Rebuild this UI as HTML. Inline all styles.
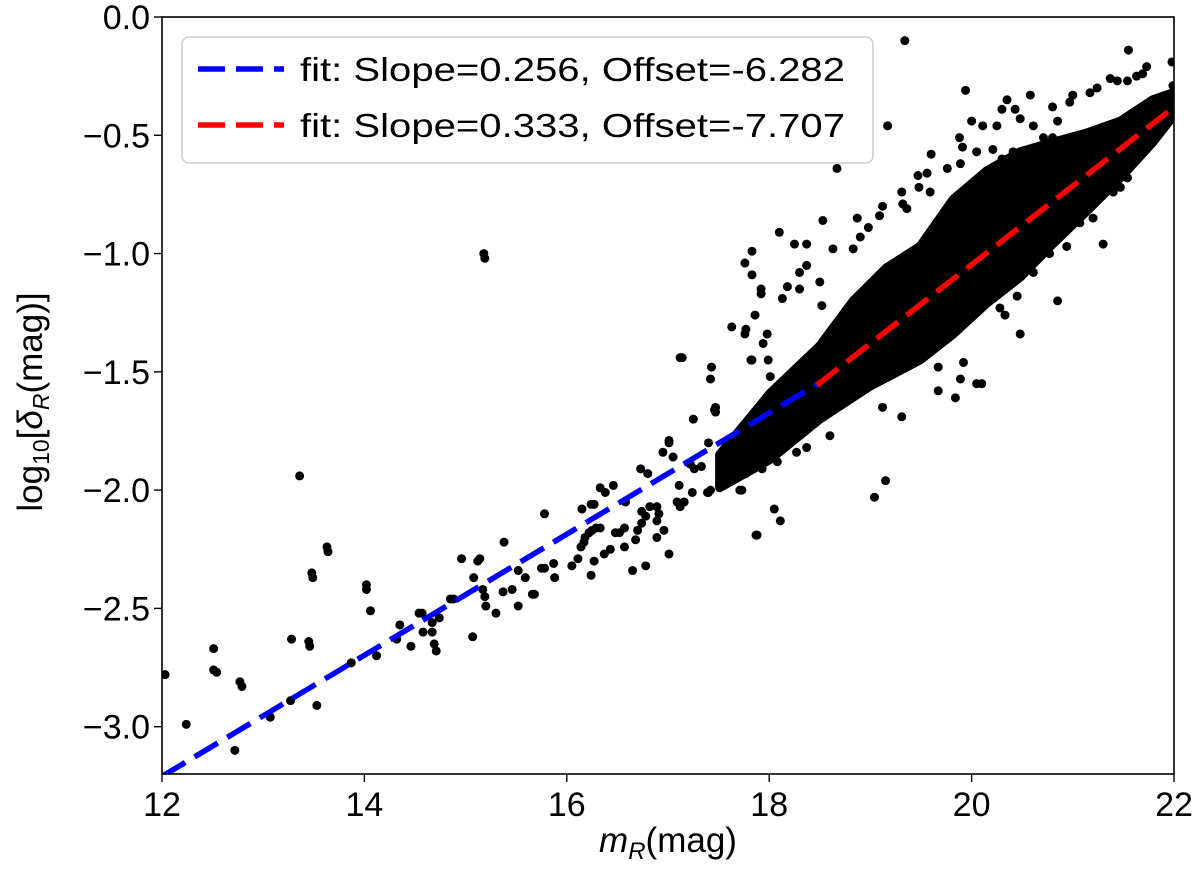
<!DOCTYPE html>
<html><head><meta charset="utf-8"><style>
body{margin:0;background:#fff;}
svg{display:block;font-family:"Liberation Sans","DejaVu Sans",sans-serif;}
</style></head><body>
<svg id="chart" width="1200" height="870" viewBox="0 0 1200 870" xmlns="http://www.w3.org/2000/svg">
<g id="plot"></g>
<g id="axes"></g>
</svg>
<script>
const xTicks=[12,14,16,18,20,22];
const yTicks=[0,-0.5,-1.0,-1.5,-2.0,-2.5,-3.0];
const yTickLabels=["0.0","−0.5","−1.0","−1.5","−2.0","−2.5","−3.0"];
const fitBlue=[0.256,-6.282,12,18.47];
const fitRed=[0.333,-7.707,18.47,22];
const coreUpperX=[17.51,18.01,18.50,18.83,19.16,19.49,19.82,20.15,20.48,20.80,21.14,21.47,21.79,21.99];
const coreUpper=[-1.85,-1.59,-1.39,-1.20,-1.06,-0.97,-0.77,-0.65,-0.57,-0.53,-0.49,-0.44,-0.35,-0.32];
const coreLowerX=[17.51,18.01,18.50,19.00,19.49,19.82,20.15,20.48,20.80,21.14,21.47,21.79,21.99];
const coreLower=[-1.99,-1.87,-1.70,-1.56,-1.45,-1.34,-1.21,-1.10,-0.96,-0.82,-0.68,-0.53,-0.42];
const pts=[
[12.03,-2.78],[12.24,-2.99],[12.51,-2.67],[12.51,-2.76],[12.54,-2.77],[12.77,-2.81],[12.79,-2.83],[12.72,-3.10],[13.07,-2.96],[13.27,-2.89],
[13.28,-2.63],[13.36,-1.94],[13.45,-2.64],[13.46,-2.66],[13.53,-2.91],[13.48,-2.35],[13.49,-2.37],[13.63,-2.24],[13.64,-2.26],[14.02,-2.40],
[14.02,-2.42],[14.06,-2.51],[14.12,-2.70],[13.87,-2.73],[14.32,-2.63],[14.35,-2.57],[14.46,-2.66],[14.54,-2.52],[14.57,-2.52],[14.58,-2.60],
[14.67,-2.60],[14.67,-2.56],[14.74,-2.54],[14.69,-2.65],[14.71,-2.68],[14.85,-2.46],[14.88,-2.46],[14.96,-2.29],[15.08,-2.37],[15.07,-2.62],
[15.12,-2.30],[15.14,-2.29],[15.17,-2.42],[15.19,-2.45],[15.20,-2.49],[15.30,-2.52],[15.38,-2.22],[15.37,-2.43],[15.46,-2.42],[15.52,-2.49],
[15.52,-2.34],[15.59,-2.37],[15.66,-2.44],[15.68,-2.44],[15.75,-2.33],[15.78,-2.33],[15.78,-2.10],[15.87,-2.31],[15.88,-2.37],[16.05,-2.32],
[16.11,-2.29],[16.14,-2.24],[16.17,-2.22],[16.18,-2.20],[16.22,-2.18],[16.25,-2.17],[16.15,-2.08],[16.24,-2.06],[16.27,-2.06],[16.24,-2.36],
[16.27,-2.30],[16.29,-2.16],[16.33,-2.16],[16.33,-1.99],[16.38,-2.01],[16.46,-1.98],[16.37,-2.27],[16.43,-2.25],[16.48,-2.18],[16.52,-2.18],
[16.57,-2.16],[16.57,-2.24],[16.58,-2.05],[16.65,-2.34],[16.68,-2.21],[16.70,-2.17],[16.74,-2.14],[16.78,-2.11],[16.74,-2.09],[16.73,-1.91],
[16.80,-1.93],[16.78,-2.32],[16.82,-2.07],[16.89,-2.07],[16.89,-2.13],[16.91,-2.10],[16.89,-2.20],[16.96,-2.17],[16.95,-1.84],[17.01,-1.79],
[17.01,-1.80],[17.01,-2.27],[17.05,-1.86],[17.11,-1.98],[17.09,-2.05],[17.12,-2.07],[17.16,-2.05],[17.24,-2.01],[17.22,-1.89],[17.26,-1.91],
[17.33,-1.90],[17.25,-1.70],[17.12,-1.44],[17.14,-1.44],[17.43,-1.48],[17.42,-1.53],[17.47,-1.65],[17.47,-1.67],[17.40,-1.80],[17.39,-2.01],
[17.42,-2.00],[17.54,-1.86],[17.54,-1.97],[17.61,-1.91],[17.67,-1.89],[17.73,-2.00],[17.77,-1.93],[17.82,-1.45],[17.76,-1.34],[17.87,-2.19],
[17.80,-1.79],[17.88,-1.75],[17.86,-1.67],[15.18,-1.00],[15.19,-1.02],
[19.34,-0.10],[21.55,-0.14],[21.98,-0.19],[19.94,-0.31],[20.58,-0.33],[21.73,-0.21],[21.69,-0.24],[21.63,-0.25],[21.44,-0.27],[21.37,-0.26],
[21.54,-0.27],[21.24,-0.30],[21.17,-0.32],[21.00,-0.33],[20.80,-0.38],[20.97,-0.36],[20.35,-0.35],[20.30,-0.39],[20.43,-0.39],[20.48,-0.43],
[20.61,-0.46],[20.71,-0.51],[20.80,-0.51],[20.85,-0.44],[20.00,-0.44],[20.11,-0.46],[20.25,-0.46],[19.17,-0.46],[19.88,-0.51],[19.91,-0.55],
[19.89,-0.62],[19.76,-0.64],[19.60,-0.58],[20.05,-0.57],[20.11,-0.67],[20.21,-0.56],[20.30,-0.60],[20.41,-0.57],[20.53,-0.57],[18.67,-0.64],
[19.47,-0.67],[19.56,-0.66],[19.59,-0.74],[19.48,-0.72],[19.31,-0.74],[19.32,-0.79],[19.36,-0.81],[19.12,-0.80],[18.87,-0.85],[19.09,-0.84],
[18.98,-0.89],[18.90,-0.93],[18.83,-0.98],[18.53,-0.86],[18.10,-0.91],[18.25,-0.96],[18.37,-0.96],[18.63,-0.98],[17.83,-0.99],[17.76,-1.04],
[17.83,-1.09],[17.92,-1.15],[17.92,-1.17],[17.63,-1.31],[17.77,-1.32],[17.86,-1.26],[18.13,-1.19],[18.18,-1.14],[18.30,-1.08],[18.30,-1.15],
[18.37,-1.05],[18.50,-1.12],[18.52,-1.22],[17.98,-1.34],[17.94,-1.38],[17.99,-1.45],[17.83,-1.45],[18.01,-1.52],[17.46,-1.66],[21.30,-0.96],
[20.85,-1.20],[20.33,-1.26],[20.48,-1.34],[20.10,-1.55],[20.05,-1.55],[19.92,-1.46],[19.89,-1.53],[19.84,-1.61],[19.67,-1.58],[19.67,-1.48],
[19.31,-1.69],[19.15,-1.96],[19.04,-2.03],[18.05,-2.08],[18.11,-2.13],[17.88,-2.19],[19.12,-1.65],[18.60,-1.77],[18.37,-1.82],[18.27,-1.84],
[18.08,-1.88],[17.93,-1.91],[17.71,-2.00],[17.40,-2.01],[21.83,-0.48],[21.81,-0.51],[21.54,-0.68],[21.47,-0.72],[21.40,-0.74],[21.20,-0.85],
[21.07,-0.87],[20.94,-0.97],[20.77,-1.00],[20.61,-1.08],[20.45,-1.18],[20.28,-1.23],[21.99,-0.29]
];
const X0=162,X1=1174,Y0=774,Y1=17,xmin=12,xmax=22,ymin=-3.2,ymax=0;
function sx(v){return X0+(v-xmin)/(xmax-xmin)*(X1-X0);}
function sy(v){return Y0-(v-ymin)/(ymax-ymin)*(Y0-Y1);}
const NS="http://www.w3.org/2000/svg";
function mk(tag,attrs,parent){const e=document.createElementNS(NS,tag);for(const k in attrs)e.setAttribute(k,attrs[k]);parent.appendChild(e);return e;}
const plot=document.getElementById('plot'),axes=document.getElementById('axes');
const defs=mk('defs',{},plot);const cp=mk('clipPath',{id:'clip'},defs);mk('rect',{x:X0,y:Y1,width:X1-X0,height:Y0-Y1},cp);
const g=mk('g',{'clip-path':'url(#clip)'},plot);
let d='';
coreUpperX.forEach((x,i)=>{d+=(i?'L':'M')+sx(x)+' '+sy(coreUpper[i]);});
for(let i=coreLowerX.length-1;i>=0;i--){d+='L'+sx(coreLowerX[i])+' '+sy(coreLower[i]);}
const core=mk('path',{d:d+'Z',fill:'#000',stroke:'#000','stroke-width':9,'stroke-linejoin':'round'},g);


pts.forEach(p=>{
  const c=mk('circle',{cx:sx(p[0]),cy:sy(p[1]),r:4.5,fill:'#000'},g);
  
  
});
function fitLine(f,color,name){
  const l=mk('line',{x1:sx(f[2]),y1:sy(f[0]*f[2]+f[1]),x2:sx(f[3]),y2:sy(f[0]*f[3]+f[1]),stroke:color,'stroke-width':5.5,'stroke-dasharray':'27 11'},g);
  
  
}
fitLine(fitBlue,'#0000ff','fit-line-blue');
fitLine(fitRed,'#ff0000','fit-line-red');
const fr=mk('rect',{x:X0,y:Y1,width:X1-X0,height:Y0-Y1,fill:'none',stroke:'#000','stroke-width':1.6},axes);


xTicks.forEach(v=>{
  mk('line',{x1:sx(v),x2:sx(v),y1:Y0,y2:Y0+8,stroke:'#000','stroke-width':1.4},axes);
  const t=mk('text',{x:sx(v),y:Y0+42,'text-anchor':'middle','font-size':34,fill:'#000'},axes);
  t.textContent=String(v);
  
  
});
yTicks.forEach((v,i)=>{
  mk('line',{x1:X0-8,x2:X0,y1:sy(v),y2:sy(v),stroke:'#000','stroke-width':1.4},axes);
  const t=mk('text',{x:X0-12,y:sy(v)+12,'text-anchor':'end','font-size':34,fill:'#000'},axes);
  t.textContent=yTickLabels[i];
  
  
});
</script>
<svg style="position:absolute;left:0;top:0" width="1200" height="870">
<text x="668" y="852" text-anchor="middle" font-size="35" font-family="Liberation Sans, sans-serif"><tspan font-style="italic">m</tspan><tspan font-style="italic" font-size="24" dy="7">R</tspan><tspan dy="-7">(mag)</tspan></text>
<text transform="translate(42,402) rotate(-90)" text-anchor="middle" font-size="35" font-family="Liberation Sans, sans-serif">log<tspan font-size="23" dy="7">10</tspan><tspan dy="-7">[</tspan><tspan font-style="italic">δ</tspan><tspan font-style="italic" font-size="23" dy="7">R</tspan><tspan dy="-7">(mag)]</tspan></text>
<g>
<rect x="182" y="37" width="691" height="126" rx="7" fill="#fff" fill-opacity="0.85" stroke="#cccccc" stroke-width="1.5"/>
<line x1="198" y1="69" x2="284" y2="69" stroke="#0000ff" stroke-width="5.5" stroke-dasharray="27 11"/>
<text x="300" y="81" font-size="33" textLength="545" lengthAdjust="spacingAndGlyphs" font-family="Liberation Sans, sans-serif">fit:  Slope=0.256,  Offset=-6.282</text>
<line x1="198" y1="125" x2="284" y2="125" stroke="#ff0000" stroke-width="5.5" stroke-dasharray="27 11"/>
<text x="300" y="137" font-size="33" textLength="545" lengthAdjust="spacingAndGlyphs" font-family="Liberation Sans, sans-serif">fit:  Slope=0.333,  Offset=-7.707</text>
</g>
</svg>
</body></html>
